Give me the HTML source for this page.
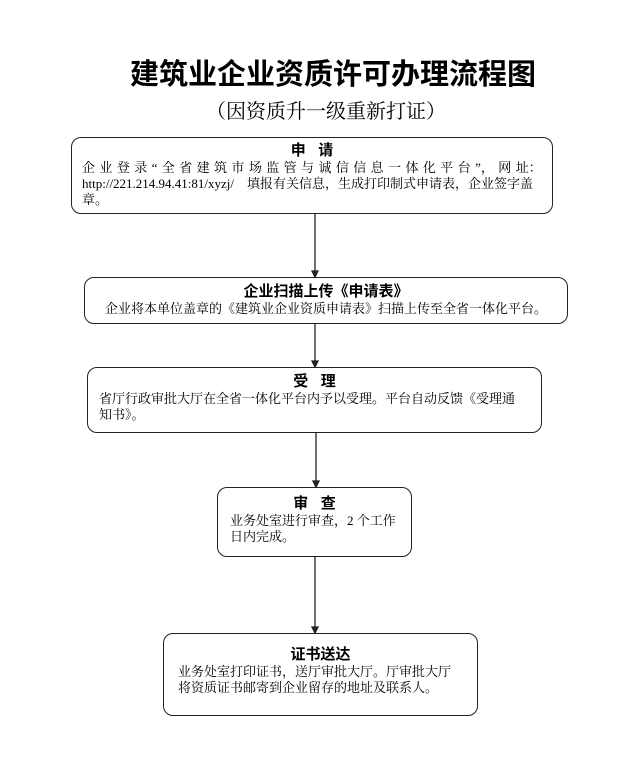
<!DOCTYPE html>
<html><head><meta charset="utf-8"><style>
body{margin:0;width:621px;height:762px;background:#fff;position:relative;font-family:"Liberation Serif","Noto Serif CJK SC",serif;color:#000;overflow:hidden}
.t{position:absolute;white-space:nowrap}
.b{position:absolute;border:1.3px solid #222;border-radius:10px;box-sizing:border-box}
.h{font-family:"Liberation Sans","Noto Sans CJK SC",sans-serif;font-weight:bold;font-size:15px;text-align:center;line-height:18px}
.p{font-size:13px;line-height:16px;padding:0 10px;white-space:nowrap}
.j{display:flex;justify-content:space-between;padding:0 10px;font-size:13px;line-height:16px}
</style></head><body>
<div class="t" style="left:130px;top:58px;font-family:'Liberation Sans','Noto Sans CJK SC',sans-serif;font-size:29px;font-weight:bold;line-height:34px">建筑业企业资质许可办理流程图</div>
<div class="t" style="left:206px;top:99px;font-size:20px;line-height:26px">（因资质升一级重新打证）</div>

<div class="b" style="left:71px;top:137px;width:482px;height:77px">
<div class="h" style="margin-top:4px">申&nbsp;&nbsp;&nbsp;请</div>
<div class="j"><span>企</span><span>业</span><span>登</span><span>录</span><span>“</span><span>全</span><span>省</span><span>建</span><span>筑</span><span>市</span><span>场</span><span>监</span><span>管</span><span>与</span><span>诚</span><span>信</span><span>信</span><span>息</span><span>一</span><span>体</span><span>化</span><span>平</span><span>台</span><span>”，</span><span>网</span><span>址：</span></div>
<div class="p">http://221.214.94.41:81/xyzj/&nbsp;&nbsp;&nbsp;&nbsp;填报有关信息，生成打印制式申请表，企业签字盖<br>章。</div>
</div>

<div class="b" style="left:84px;top:277px;width:484px;height:47px">
<div class="h" style="margin-top:5px">企业扫描上传《申请表》</div>
<div class="p" style="text-align:center">企业将本单位盖章的《建筑业企业资质申请表》扫描上传至全省一体化平台。</div>
</div>

<div class="b" style="left:87px;top:367px;width:455px;height:66px">
<div class="h" style="margin-top:5px">受&nbsp;&nbsp;&nbsp;理</div>
<div class="p" style="padding-left:11px">省厅行政审批大厅在全省一体化平台内予以受理。平台自动反馈《受理通<br>知书》。</div>
</div>

<div class="b" style="left:217px;top:487px;width:195px;height:70px">
<div class="h" style="margin-top:7px">审&nbsp;&nbsp;&nbsp;查</div>
<div class="p" style="padding-left:12px">业务处室进行审查，2 个工作<br>日内完成。</div>
</div>

<div class="b" style="left:163px;top:633px;width:315px;height:83px">
<div class="h" style="margin-top:12px">证书送达</div>
<div class="p" style="padding-left:14px">业务处室打印证书，送厅审批大厅。厅审批大厅<br>将资质证书邮寄到企业留存的地址及联系人。</div>
</div>

<svg style="position:absolute;left:0;top:0" width="621" height="762">
<g stroke="#222" stroke-width="1.3" fill="#222">
<line x1="315" y1="214" x2="315" y2="272"/><polygon points="312,271 318,271 315,277"/>
<line x1="315" y1="324" x2="315" y2="362"/><polygon points="312,361 318,361 315,367"/>
<line x1="316" y1="433" x2="316" y2="482"/><polygon points="313,481 319,481 316,487"/>
<line x1="315" y1="557" x2="315" y2="628"/><polygon points="312,627 318,627 315,633"/>
</g></svg>
</body></html>
